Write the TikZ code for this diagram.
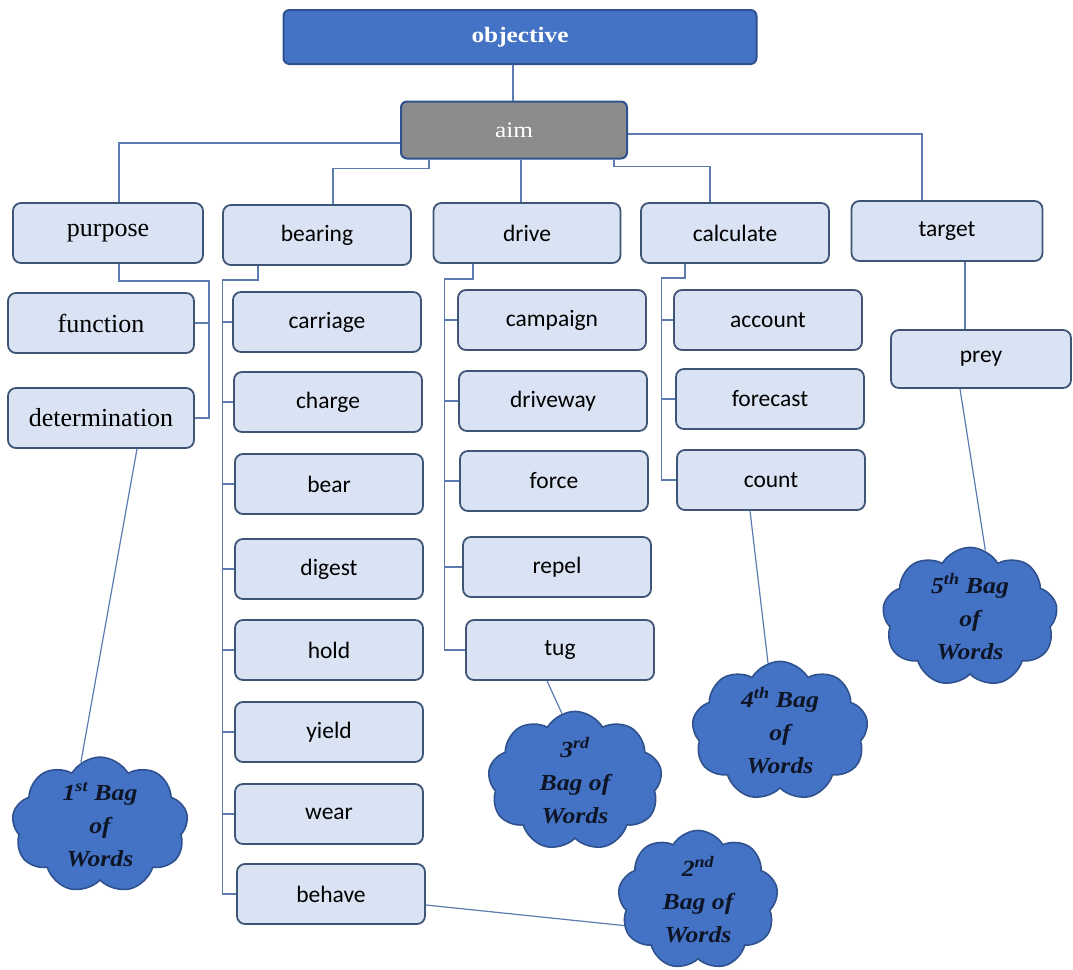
\documentclass[tikz,border=0pt]{standalone}
\usepackage{fontspec}
\setmainfont{Liberation Serif}
\newfontfamily\calib{Carlito}
\newfontfamily\headfont[FakeStretch=1.15]{Liberation Serif}
\newfontfamily\bagfont[FakeStretch=1.12]{Liberation Serif}
\usetikzlibrary{shapes.symbols}
\definecolor{topblue}{HTML}{4472C4}
\definecolor{darkedge}{HTML}{2F528F}
\definecolor{boxfill}{HTML}{DAE3F3}
\definecolor{boxedge}{HTML}{3F5576}
\definecolor{linkcol}{HTML}{5C7BB0}
\definecolor{aimgray}{HTML}{8C8C8C}
\definecolor{bagtext}{HTML}{0D1526}
\tikzset{
  head/.style={draw=darkedge, line width=2pt, rounded corners=6pt, inner sep=0pt,
    text=white},
  cat/.style={draw=boxedge, fill=boxfill, line width=1.8pt, rounded corners=8pt,
    minimum width=188pt, minimum height=60pt, inner sep=0pt},
  serifbox/.style={cat, font=\fontsize{26}{30}\selectfont},
  sansbox/.style={cat, font=\calib\fontsize{23.5}{28}\selectfont},
  conn/.style={draw=linkcol, line width=1.2pt},
  bag/.style={cloud, cloud puffs=9, cloud puff arc=120, draw=darkedge, fill=topblue,
    line width=1.6pt, inner sep=0pt, align=center, text=bagtext,
    font=\bagfont\bfseries\itshape\fontsize{23}{33}\selectfont}
}
\begin{document}
\begin{tikzpicture}[x=1pt, y=-1pt]
\useasboundingbox (0,0) rectangle (1073,969);

% top of the hierarchy
\node[head, fill=topblue, minimum width=473pt, minimum height=54pt,
  font=\headfont\bfseries\fontsize{22}{26}\selectfont] (objective) at (520,37) {objective};
\node[head, fill=aimgray, minimum width=226pt, minimum height=57pt,
  font=\headfont\fontsize{22}{26}\selectfont] (aim) at (514,130) {aim};

% first level
\node[serifbox, minimum width=190pt] (purpose) at (108,233) {purpose};
\node[sansbox] (bearing) at (317,235) {bearing};
\node[sansbox, minimum width=187pt] (drive) at (527,233) {drive};
\node[sansbox] (calculate) at (735,233) {calculate};
\node[sansbox, minimum width=191pt] (target) at (947,231) {target};

% children of purpose
\node[serifbox, minimum width=186pt] (function) at (101,323) {function};
\node[serifbox, minimum width=186pt] (determination) at (101,418) {determination};

% children of bearing
\node[sansbox] (carriage) at (327,322) {carriage};
\node[sansbox] (charge) at (328,402) {charge};
\node[sansbox] (bear) at (329,484) {bear};
\node[sansbox] (digest) at (329,569) {digest};
\node[sansbox] (hold) at (329,650) {hold};
\node[sansbox] (yield) at (329,732) {yield};
\node[sansbox] (wear) at (329,814) {wear};
\node[sansbox] (behave) at (331,894) {behave};

% children of drive
\node[sansbox] (campaign) at (552,320) {campaign};
\node[sansbox] (driveway) at (553,401) {driveway};
\node[sansbox] (force) at (554,481) {force};
\node[sansbox] (repel) at (557,567) {repel};
\node[sansbox] (tug) at (560,650) {tug};

% children of calculate
\node[sansbox] (account) at (768,320) {account};
\node[sansbox] (forecast) at (770,399) {forecast};
\node[sansbox] (count) at (771,480) {count};

% child of target
\node[sansbox, minimum width=180pt, minimum height=58pt] (prey) at (981,359) {prey};

% bags of words
\node[bag, minimum width=176pt, minimum height=126pt] (bag1) at (100,825)
  {1\textsuperscript{st} Bag\\of\\Words};
\node[bag, minimum width=160pt, minimum height=130pt] (bag2) at (698,900)
  {2\textsuperscript{nd}\\Bag of\\Words};
\node[bag, minimum width=174pt, minimum height=138pt] (bag3) at (575,781)
  {3\textsuperscript{rd}\\Bag of\\Words};
\node[bag, minimum width=176pt, minimum height=138pt] (bag4) at (780,731)
  {4\textsuperscript{th} Bag\\of\\Words};
\node[bag, minimum width=175pt, minimum height=122pt] (bag5) at (970,617)
  {5\textsuperscript{th} Bag\\of\\Words};

% connectors between levels
\draw[conn] (objective.south -| aim.north) ++(-1,0) -- ([xshift=-1pt]aim.north);
\draw[conn] ([yshift=-13pt]aim.west) -| ([xshift=11pt]purpose.north);
\draw[conn] ([xshift=-85pt]aim.south) -- ++(0,9) -| ([xshift=16pt]bearing.north);
\draw[conn] ([xshift=7pt]aim.south) -- ([xshift=7pt]aim.south |- drive.north);
\draw[conn] ([xshift=100pt]aim.south) -- ++(0,7) -| ([xshift=-25pt]calculate.north);
\draw[conn] ([yshift=-4pt]aim.east) -| ([xshift=-25pt]target.north);

% purpose branch
\draw[conn] ([xshift=11pt]purpose.south) -- ++(0,17) -| ([xshift=14pt]determination.east)
  -- (determination.east);
\draw[conn] (function.east) -- ++(14,0);

% bearing branch
\draw[conn] ([xshift=-59pt]bearing.south) -- ++(0,14) -| ([xshift=-14pt]behave.west)
  -- (behave.west);
\foreach \n in {carriage,charge,bear,digest,hold,yield,wear}
  \draw[conn] (\n.west) -- ([xshift=-14pt]\n.west -| behave.west);

% drive branch
\draw[conn] ([xshift=-54pt]drive.south) -- ++(0,15) -| ([xshift=-21pt]tug.west) -- (tug.west);
\foreach \n in {campaign,driveway,force,repel}
  \draw[conn] (\n.west) -- ([xshift=-21pt]\n.west -| tug.west);

% calculate branch
\draw[conn] ([xshift=-50pt]calculate.south) -- ++(0,14) -| ([xshift=-15pt]count.west)
  -- (count.west);
\foreach \n in {account,forecast}
  \draw[conn] (\n.west) -- ([xshift=-15pt]\n.west -| count.west);

% target branch
\draw[conn] ([xshift=18pt]target.south) -- ([xshift=18pt]target.south |- prey.north);

% links to the bags of words
\draw[conn] ([xshift=36pt]determination.south) -- (bag1.107);
\draw[conn] ([yshift=-11pt]behave.east) -- (bag2.199);
\draw[conn] ([xshift=-13pt]tug.south) -- (bag3.101);
\draw[conn] ([xshift=-21pt]count.south) -- (bag4.100);
\draw[conn] ([xshift=-21pt]prey.south) -- (bag5.77);
\end{tikzpicture}
\end{document}
